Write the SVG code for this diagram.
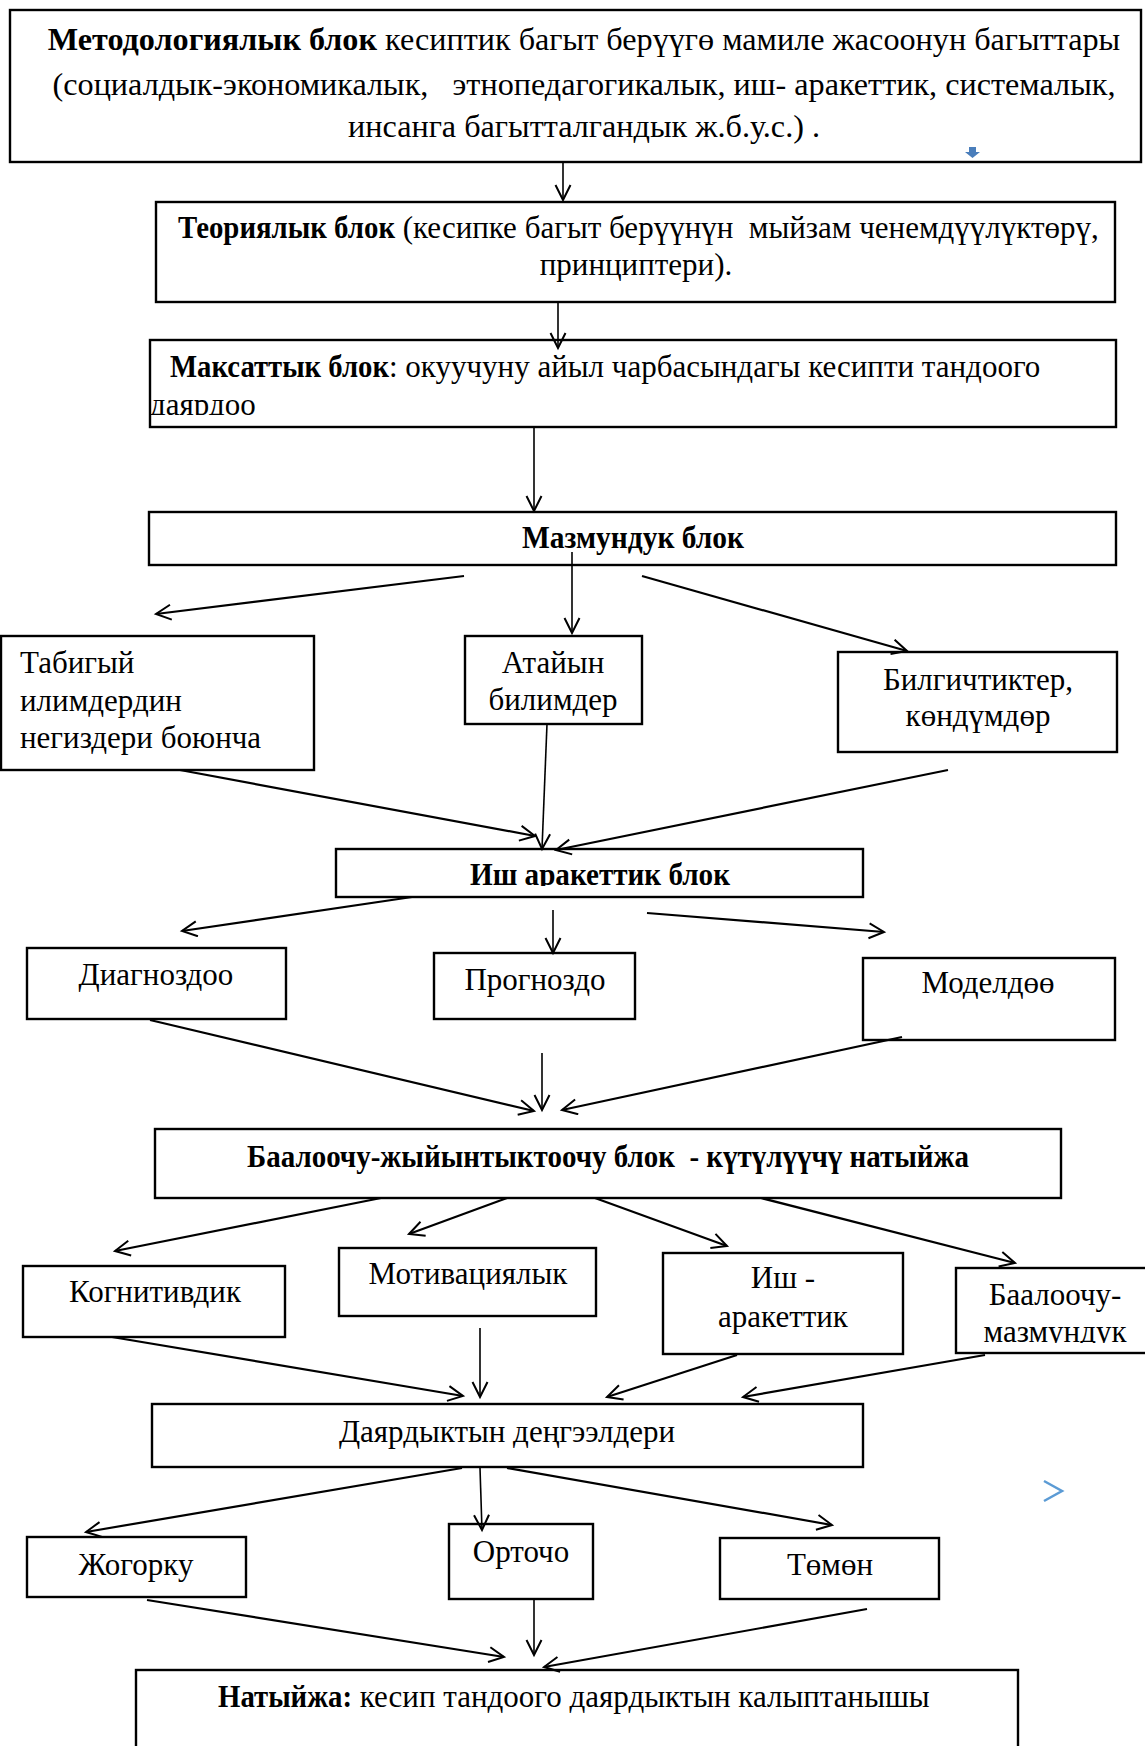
<svg xmlns="http://www.w3.org/2000/svg" width="1145" height="1746" viewBox="0 0 1145 1746">
<style>
.box{fill:#fff;stroke:#000;stroke-width:2.4}
.t{font-family:"Liberation Serif","Times New Roman",serif;font-size:31px;fill:#000}
.t1{font-size:32.2px}
.c{text-anchor:middle}
.b{font-weight:bold}
.cn{fill:none;stroke:#000;stroke-width:2.2;marker-end:url(#ah)}
.cv{fill:none;stroke:#000;stroke-width:1.6;marker-end:url(#ah)}
</style>
<defs>
<marker id="ah" markerWidth="20" markerHeight="20" refX="16" refY="8.5" orient="auto" markerUnits="userSpaceOnUse">
<path d="M1,1 L16,8.5 L1,16" fill="none" stroke="#000" stroke-width="2"/>
</marker>
<clipPath id="clipMak"><rect x="140" y="330" width="990" height="85"/></clipPath>
<clipPath id="clipIsh"><rect x="330" y="845" width="540" height="41"/></clipPath>
<clipPath id="clipBaaM"><rect x="950" y="1260" width="200" height="83"/></clipPath>
<clipPath id="clipAta"><rect x="460" y="630" width="190" height="87"/></clipPath>
</defs>
<rect width="1145" height="1746" fill="#fff"/>

<g id="n-method">
<rect class="box" x="10" y="10" width="1131" height="152"/>
<text class="t t1 c" x="584" y="50"><tspan class="b">Методологиялык блок</tspan> кесиптик багыт берүүгө мамиле жасоонун багыттары</text>
<text class="t t1 c" x="584" y="95" xml:space="preserve">(социалдык-экономикалык,   этнопедагогикалык, иш- аракеттик, системалык,</text>
<text class="t t1 c" x="584" y="137">инсанга багытталгандык ж.б.у.с.) .</text>
<path d="M969,147 h7 v5 h4 l-7.5,6 l-7.5,-6 h4 z" fill="#4a7ebb"/>
</g>

<g id="n-theory">
<rect class="box" x="156" y="202" width="959" height="100"/>
<text class="t b" x="178" y="238" textLength="217" lengthAdjust="spacingAndGlyphs">Теориялык блок</text>
<text class="t" x="395" y="238" xml:space="preserve"> (кесипке багыт берүүнүн  мыйзам ченемдүүлүктөрү,</text>
<text class="t c" x="636" y="275">принциптери).</text>
</g>

<g id="n-goal">
<rect class="box" x="150" y="340" width="966" height="87"/>
<text class="t b" x="170" y="377" textLength="219" lengthAdjust="spacingAndGlyphs">Максаттык блок</text>
<text class="t" x="389" y="377">: окуучуну айыл чарбасындагы кесипти тандоого</text>
<text class="t" x="150" y="415" clip-path="url(#clipMak)">даярдоо</text>
</g>

<g id="n-content">
<rect class="box" x="149" y="512" width="967" height="53"/>
<text class="t b" x="522" y="548" textLength="222" lengthAdjust="spacingAndGlyphs">Мазмундук блок</text>
</g>

<g id="n-natural">
<rect class="box" x="1" y="636" width="313" height="134"/>
<text class="t" x="20" y="673">Табигый</text>
<text class="t" x="20" y="711">илимдердин</text>
<text class="t" x="20" y="748">негиздери боюнча</text>
</g>

<g id="n-special">
<rect class="box" x="465" y="636" width="177" height="88"/>
<text class="t c" x="553" y="673">Атайын</text>
<text class="t c" x="553" y="710" clip-path="url(#clipAta)">билимдер</text>
</g>

<g id="n-skills">
<rect class="box" x="838" y="652" width="279" height="100"/>
<text class="t c" x="978" y="690">Билгичтиктер,</text>
<text class="t c" x="978" y="726">көндүмдөр</text>
</g>

<g id="n-activity">
<rect class="box" x="336" y="849" width="527" height="48"/>
<text class="t b" x="470" y="885" textLength="260" lengthAdjust="spacingAndGlyphs" clip-path="url(#clipIsh)">Иш аракеттик блок</text>
</g>

<g id="n-diag">
<rect class="box" x="27" y="948" width="259" height="71"/>
<text class="t c" x="156" y="985">Диагноздоо</text>
</g>

<g id="n-prog">
<rect class="box" x="434" y="953" width="201" height="66"/>
<text class="t c" x="535" y="990">Прогноздо</text>
</g>

<g id="n-model">
<rect class="box" x="863" y="958" width="252" height="82"/>
<text class="t c" x="988" y="993">Моделдөө</text>
</g>

<g id="n-eval">
<rect class="box" x="155" y="1129" width="906" height="69"/>
<text class="t b" x="247" y="1167" textLength="722" lengthAdjust="spacingAndGlyphs" xml:space="preserve">Баалоочу-жыйынтыктоочу блок  - күтүлүүчү натыйжа</text>
</g>

<g id="n-cog">
<rect class="box" x="23" y="1266" width="262" height="71"/>
<text class="t c" x="155" y="1302">Когнитивдик</text>
</g>

<g id="n-mot">
<rect class="box" x="339" y="1248" width="257" height="68"/>
<text class="t c" x="468" y="1284">Мотивациялык</text>
</g>

<g id="n-act2">
<rect class="box" x="663" y="1253" width="240" height="101"/>
<text class="t c" x="783" y="1288">Иш -</text>
<text class="t c" x="783" y="1327">аракеттик</text>
</g>

<g id="n-evalcont">
<rect class="box" x="956" y="1268" width="200" height="85"/>
<text class="t c" x="1055" y="1305">Баалоочу-</text>
<text class="t c" x="1055" y="1342" clip-path="url(#clipBaaM)">мазмундук</text>
</g>

<g id="n-levels">
<rect class="box" x="152" y="1404" width="711" height="63"/>
<text class="t c" x="507" y="1442">Даярдыктын деңгээлдери</text>
<path d="M1044,1481 L1062,1491 L1044,1501" fill="none" stroke="#5b9bd5" stroke-width="2.5"/>
</g>

<g id="n-high">
<rect class="box" x="27" y="1537" width="219" height="60"/>
<text class="t c" x="136" y="1575">Жогорку</text>
</g>

<g id="n-mid">
<rect class="box" x="449" y="1524" width="144" height="75"/>
<text class="t c" x="521" y="1562">Орточо</text>
</g>

<g id="n-low">
<rect class="box" x="720" y="1538" width="219" height="61"/>
<text class="t c" x="830" y="1575">Төмөн</text>
</g>

<g id="n-result">
<rect class="box" x="136" y="1670" width="882" height="100"/>
<text class="t b" x="218" y="1707" textLength="134" lengthAdjust="spacingAndGlyphs">Натыйжа:</text>
<text class="t" x="352" y="1707" xml:space="preserve"> кесип тандоого даярдыктын калыптанышы</text>
</g>

<g id="connectors">
<path class="cv" d="M563,162 L563,200"/>
<path class="cv" d="M558,302 L558,348"/>
<path class="cv" d="M534,427 L534,511"/>
<path class="cn" d="M464,576 L156,614"/>
<path class="cv" d="M572,552 L572,633"/>
<path class="cn" d="M642,576 L907,651"/>
<path class="cn" d="M180,770 L535,836"/>
<path class="cv" d="M547,724 L542,849"/>
<path class="cn" d="M948,770 L556,850"/>
<path class="cn" d="M412,897 L182,931"/>
<path class="cv" d="M553,910 L553,953"/>
<path class="cn" d="M647,913 L884,932"/>
<path class="cn" d="M150,1020 L534,1111"/>
<path class="cv" d="M542,1053 L542,1110"/>
<path class="cn" d="M902,1037 L562,1110"/>
<path class="cn" d="M381,1198 L115,1251"/>
<path class="cn" d="M507,1198 L409,1234"/>
<path class="cn" d="M595,1198 L727,1246"/>
<path class="cn" d="M761,1198 L1015,1263"/>
<path class="cn" d="M112,1337 L463,1396"/>
<path class="cv" d="M480,1328 L480,1397"/>
<path class="cn" d="M737,1355 L607,1397"/>
<path class="cn" d="M985,1355 L743,1397"/>
<path class="cn" d="M462,1468 L86,1532"/>
<path class="cv" d="M480,1468 L482,1530"/>
<path class="cn" d="M507,1468 L832,1525"/>
<path class="cn" d="M147,1600 L504,1657"/>
<path class="cv" d="M534,1600 L534,1655"/>
<path class="cn" d="M867,1609 L544,1667"/>
</g>
</svg>
